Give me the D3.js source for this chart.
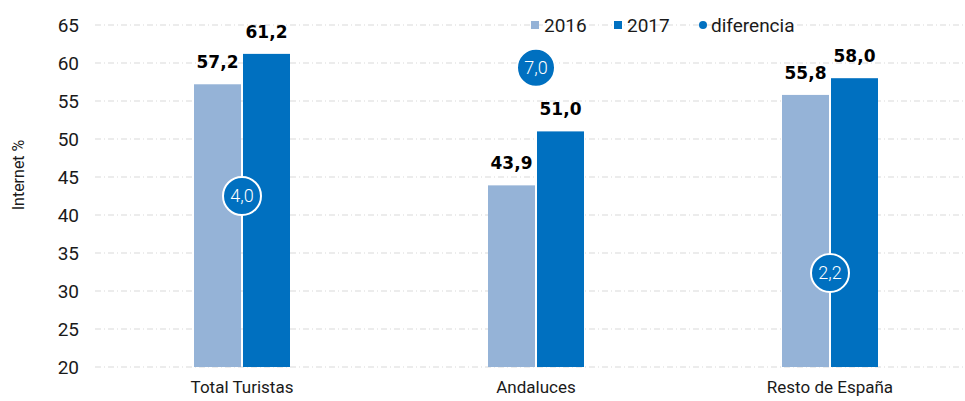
<!DOCTYPE html>
<html>
<head>
<meta charset="utf-8">
<script src="https://cdn.jsdelivr.net/npm/d3@7"></script>
<style>
  body { margin: 0; background: #fff; }
  svg { font-family: Roboto, "Liberation Sans", sans-serif; }
</style>
</head>
<body>
<svg id="chart" width="965" height="401"></svg>
<script>
// data
var categories = ["Total Turistas", "Andaluces", "Resto de España"];
var series2016 = [57.2, 43.9, 55.8];
var series2017 = [61.2, 51.0, 58.0];
var diferencia = [4.0, 7.0, 2.2];
var yTicks = [20, 25, 30, 35, 40, 45, 50, 55, 60, 65];

var fmt = function (v) { return d3.format(".1f")(v).replace(".", ","); };

var svg = d3.select("#chart");
var x = d3.scaleBand().domain(categories).range([95, 977]);
var y = d3.scaleLinear().domain([20, 65]).range([367, 25]);
var y2 = d3.scaleLinear().domain([0, 8]).range([367, 25]);
var barW = 47, gap = 2;

// grid
svg.append("g").selectAll("line").data(yTicks).enter().append("line")
    .attr("x1", 95).attr("x2", 965)
    .attr("y1", function (d) { return y(d); }).attr("y2", function (d) { return y(d); })
    .attr("stroke", "#d9d9d9").attr("stroke-width", 1)
    .attr("stroke-dasharray", "6,3,1,3");

// y axis labels
svg.append("g").selectAll("text").data(yTicks).enter().append("text")
    .attr("x", 79).attr("y", function (d) { return y(d); })
    .attr("dy", "0.36em").attr("text-anchor", "end")
    .attr("font-size", 19).attr("fill", "#1a1a1a")
    .text(function (d) { return d; });

svg.append("text")
    .attr("transform", "translate(24,175) rotate(-90)")
    .attr("text-anchor", "middle").attr("font-size", 16).attr("fill", "#1a1a1a")
    .text("Internet  %");

// bars
var g = svg.append("g");
categories.forEach(function (c, i) {
    var cx = x(c) + x.bandwidth() / 2;
    var bars = [
        { v: series2016[i], x0: cx - gap / 2 - barW, col: "#95b3d7" },
        { v: series2017[i], x0: cx + gap / 2, col: "#0070c0" }
    ];
    bars.forEach(function (b) {
        g.append("rect")
            .attr("x", b.x0).attr("width", barW)
            .attr("y", y(b.v)).attr("height", y(20) - y(b.v))
            .attr("fill", b.col);
        g.append("text")
            .attr("x", b.x0 + barW / 2).attr("y", y(b.v) - 16)
            .attr("text-anchor", "middle").attr("font-size", 17)
            .attr("font-weight", "bold").attr("fill", "#000")
            .attr("font-family", "'DejaVu Sans', sans-serif")
            .text(fmt(b.v));
    });
    g.append("text")
        .attr("x", cx).attr("y", 393)
        .attr("text-anchor", "middle").attr("font-size", 17).attr("fill", "#1a1a1a")
        .text(c);
    // diferencia bubble
    g.append("circle")
        .attr("cx", cx).attr("cy", y2(diferencia[i])).attr("r", 19)
        .attr("fill", "#0070c0").attr("stroke", "#fff").attr("stroke-width", 2);
    g.append("text")
        .attr("x", cx).attr("y", y2(diferencia[i]))
        .attr("dy", "0.36em").attr("text-anchor", "middle")
        .attr("font-size", 18).attr("font-weight", 300).attr("fill", "#fff")
        .text(fmt(diferencia[i]));
});

// legend
var leg = svg.append("g").attr("font-size", 19).attr("fill", "#1a1a1a");
leg.append("rect").attr("x", 531).attr("y", 21).attr("width", 8).attr("height", 8).attr("fill", "#95b3d7");
leg.append("text").attr("x", 544).attr("y", 25).attr("dy", "0.36em").text("2016");
leg.append("rect").attr("x", 614).attr("y", 21).attr("width", 8).attr("height", 8).attr("fill", "#0070c0");
leg.append("text").attr("x", 627).attr("y", 25).attr("dy", "0.36em").text("2017");
leg.append("circle").attr("cx", 703).attr("cy", 25).attr("r", 4).attr("fill", "#0070c0");
leg.append("text").attr("x", 711).attr("y", 25).attr("dy", "0.36em").text("diferencia");
</script>
</body>
</html>
